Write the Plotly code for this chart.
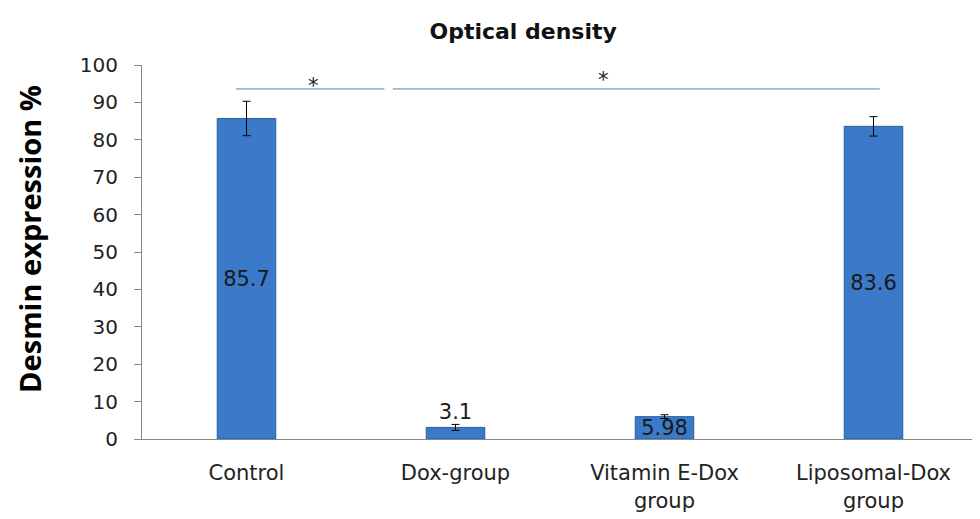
import plotly.graph_objects as go

groups = ["Control", "Dox-group", "Vitamin E-Dox<br>group", "Liposomal-Dox<br>group"]
desmin = [85.7, 3.1, 5.98, 83.6]
desmin_err = [4.6, 0.8, 0.5, 2.6]
labels = ["85.7", "3.1", "5.98", "83.6"]

# significance bars: (x start, x end, y level, star x, star lift px)
sig = [(-0.05, 0.66, 93.6, 0.32, 3), (0.70, 3.03, 93.6, 1.71, 9)]

fig = go.Figure()
fig.add_trace(go.Bar(
    x=list(range(len(groups))),
    y=desmin,
    width=0.28,
    marker=dict(color="#3B79C9", line=dict(color="#2D5D9E", width=1)),
    error_y=dict(type="data", array=desmin_err, color="black", thickness=1, width=4),
    text=labels,
    textposition=["inside", "outside", "inside", "inside"],
    insidetextanchor="middle",
    constraintext="none",
    textfont=dict(size=21, color="#1a1a1a", family="DejaVu Sans"),
    showlegend=False,
))

for x0, x1, yy, xs, lift in sig:
    fig.add_shape(type="line", x0=x0, x1=x1, y0=yy, y1=yy, xref="x", yref="y",
                  line=dict(color="#4F81BD", width=1))
    fig.add_annotation(x=xs, y=yy, text="*", showarrow=False, yshift=lift,
                       font=dict(size=21, color="#222", family="DejaVu Sans"))

# y axis title as an annotation so it can sit a bit above centre like the original
fig.add_annotation(text="<b>Desmin expression %</b>", xref="paper", yref="paper",
                   x=-0.134, y=0.535, textangle=-90, showarrow=False,
                   xanchor="center", yanchor="middle",
                   font=dict(size=29, color="black", family="Open Sans"))

# page has an 8px body margin, so the figure is a bit smaller than the window
fig.update_layout(
    width=972, height=511,
    margin=dict(l=134, r=2, t=57, b=80),
    plot_bgcolor="white", paper_bgcolor="white",
    title=dict(text="<b>Optical density</b>", x=0.53, y=0.955, xanchor="center",
               yanchor="middle", automargin=False,
               font=dict(size=22, color="#111", family="DejaVu Sans")),
)
fig.update_xaxes(
    tickmode="array", tickvals=list(range(len(groups))), ticktext=groups,
    range=[-0.5, 3.5], showline=True, linecolor="#888", linewidth=1,
    ticks="", ticklabelstandoff=15, automargin=False,
    tickfont=dict(size=21, color="#222", family="DejaVu Sans"),
)
fig.update_yaxes(
    range=[0, 100], dtick=10, showgrid=False, showline=True, linecolor="#888",
    linewidth=1, ticks="outside", ticklen=7, tickcolor="#888",
    ticklabelstandoff=12, automargin=False,
    tickfont=dict(size=20, color="#222", family="DejaVu Sans"),
)

fig.write_html("out.html")
